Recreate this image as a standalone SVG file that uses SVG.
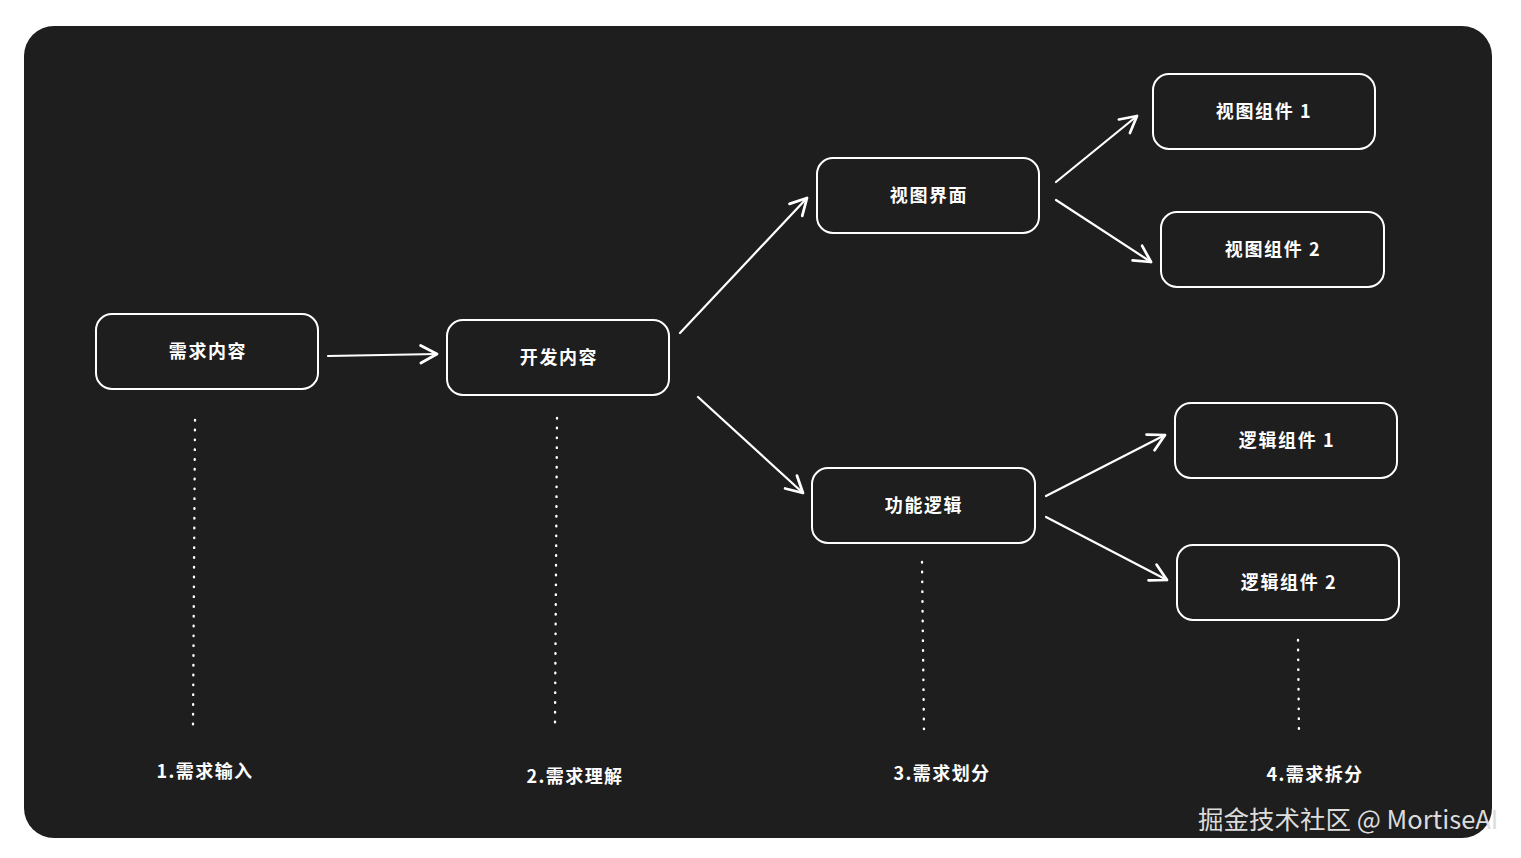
<svg xmlns="http://www.w3.org/2000/svg" width="1521" height="858" viewBox="0 0 1521 858">
<style>
.node rect{fill:#1e1e1e;stroke:#ffffff;stroke-width:2}
.lbl{fill:#ffffff;font-family:"Noto Sans CJK SC","Noto Sans",sans-serif;font-size:18px;font-weight:700;text-anchor:middle;dominant-baseline:central;letter-spacing:1.6px}
.arrow{stroke:#ffffff;stroke-width:2.2;fill:none;stroke-linecap:round;marker-end:url(#ah)}
.dot{stroke:#ffffff;stroke-width:2.4;fill:none;stroke-linecap:round;stroke-dasharray:0.5 9.3}
.step{fill:#ffffff;font-family:"Noto Sans CJK SC","Noto Sans",sans-serif;font-size:18px;font-weight:700;text-anchor:middle;dominant-baseline:central;letter-spacing:1.4px}
</style>
<defs>
<marker id="ah" markerUnits="userSpaceOnUse" markerWidth="30" markerHeight="30" refX="0" refY="0" viewBox="-16 -12 20 24" orient="auto" overflow="visible">
<path d="M-13,-7 L0,0 L-13,7" fill="none" stroke="#ffffff" stroke-width="2.2" stroke-linecap="round" stroke-linejoin="round"/>
</marker>
</defs>
<rect x="0" y="0" width="1521" height="858" fill="#ffffff"/>
<rect x="24" y="26" width="1468" height="812" rx="30" fill="#1e1e1e"/>
<g id="n1" class="node"><rect x="96" y="314" width="222" height="75" rx="16"/><text class="lbl" x="208" y="350">需求内容</text></g>
<g id="n2" class="node"><rect x="447" y="320" width="222" height="75" rx="16"/><text class="lbl" x="559" y="356">开发内容</text></g>
<g id="n3" class="node"><rect x="817" y="158" width="222" height="75" rx="16"/><text class="lbl" x="929" y="194">视图界面</text></g>
<g id="n4" class="node"><rect x="812" y="468" width="223" height="75" rx="16"/><text class="lbl" x="924" y="504">功能逻辑</text></g>
<g id="n5" class="node"><rect x="1153" y="74" width="222" height="75" rx="16"/><text class="lbl" x="1264" y="110">视图组件 1</text></g>
<g id="n6" class="node"><rect x="1161" y="212" width="223" height="75" rx="16"/><text class="lbl" x="1273" y="248">视图组件 2</text></g>
<g id="n7" class="node"><rect x="1175" y="403" width="222" height="75" rx="16"/><text class="lbl" x="1287" y="439">逻辑组件 1</text></g>
<g id="n8" class="node"><rect x="1177" y="545" width="222" height="75" rx="16"/><text class="lbl" x="1289" y="581">逻辑组件 2</text></g>
<g id="connectors">
<line class="arrow" x1="328" y1="356" x2="437" y2="354"/>
<line class="arrow" x1="680" y1="333" x2="807" y2="198"/>
<line class="arrow" x1="698" y1="397" x2="803" y2="493"/>
<line class="arrow" x1="1056" y1="182" x2="1137" y2="116"/>
<line class="arrow" x1="1056" y1="200" x2="1151" y2="262"/>
<line class="arrow" x1="1046" y1="496" x2="1165" y2="435"/>
<line class="arrow" x1="1046" y1="517" x2="1167" y2="580"/>
<line class="dot" x1="195" y1="420" x2="193" y2="725"/>
<line class="dot" x1="557" y1="418" x2="555" y2="723"/>
<line class="dot" x1="922" y1="562" x2="924" y2="733"/>
<line class="dot" x1="1298" y1="640" x2="1299" y2="737"/>
</g>
<g id="steps">
<text class="step" x="205" y="770">1.需求输入</text>
<text class="step" x="575" y="775">2.需求理解</text>
<text class="step" x="942" y="772">3.需求划分</text>
<text class="step" x="1315" y="773">4.需求拆分</text>
</g>
<text x="1198" y="829" fill="#dcdcdc" font-family="'Noto Sans CJK SC','Noto Sans',sans-serif" font-size="25.5">掘金技术社区 @ MortiseAI</text>
</svg>
